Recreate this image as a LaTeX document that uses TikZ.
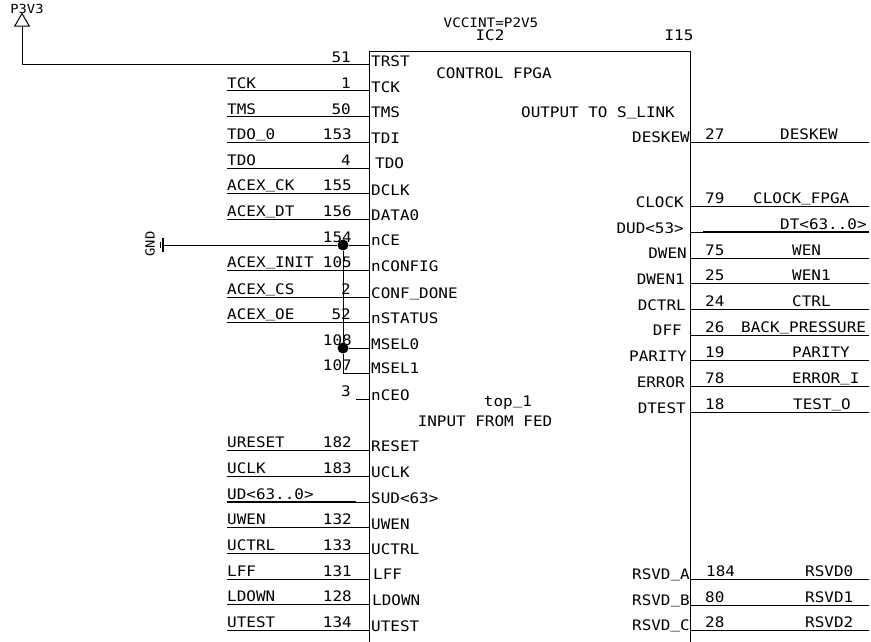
\documentclass[tikz,border=0pt]{standalone}
\usepackage{fontspec}
\usepackage{tikz}
\usetikzlibrary{shapes.geometric}
\newfontfamily\schfont[FakeStretch=1.1]{DejaVu Sans Mono}
\newcommand{\usc}{\raisebox{2.5pt}{\_}}

\tikzset{
  lbl/.style={inner sep=0pt,text height=11pt,text depth=2pt,font=\schfont\fontsize{14.5}{16}\selectfont},
  netlabel/.style={lbl,anchor=south west},
  pinnum/.style={lbl,anchor=south east},
  pinname/.style={lbl,anchor=south west},
  pinright/.style={lbl,anchor=south east},
  title/.style={lbl,text depth=0pt,anchor=center},
  smalllabel/.style={inner sep=0pt,font=\schfont\fontsize{12.5}{13}\selectfont},
  wire/.style={draw,line width=1pt},
  bus/.style={draw,line width=2pt},
  junction/.style={circle,fill,inner sep=0pt,minimum size=11pt}
}

\begin{document}
\begin{tikzpicture}[x=1pt,y=-1pt]
  \useasboundingbox (0,0) rectangle (871,642);
  \coordinate (icnw) at (369,52);
  \coordinate (icne) at (690,52);
  \coordinate (icsw) at (369,642);
  \coordinate (icse) at (690,642);
  \coordinate (wireend) at (869,642);
  \draw[wire] (icsw) -- (icnw) -- (icne) -- (icse);

  \node[title,font=\schfont\fontsize{13}{14}\selectfont] (vccint) at (491,22) {VCCINT=P2V5};
  \node[title] (ic2) at (490,35) {IC2};
  \node[title] (i15) at (679,35) {I15};
  \node[title] (ctrlfpga) at (494,73) {CONTROL FPGA};
  \node[title] (tolink) at (598,112) {OUTPUT TO S\usc{}LINK};
  \node[title] (top1) at (508,401) {top\usc{}1};
  \node[title] (fromfed) at (485,421) {INPUT FROM FED};

  \node[smalllabel] (p3v3) at (27,9) {P3V3};
  \node[draw,regular polygon,regular polygon sides=3,inner sep=0pt,minimum size=17pt,line width=1pt] (pwr) at (22,22) {};
  \node[smalllabel,rotate=90] (gnd) at (150,244) {GND};
  \coordinate (gndbar) at (163,245);
  \coordinate (gndtick) at (160,245);
  \draw[line width=2pt] ([yshift=-7pt]gndbar) -- ([yshift=7pt]gndbar);
  \draw[wire] ([yshift=-3pt]gndtick) -- ([yshift=3pt]gndtick);

  \node[pinnum] (n51) at (351,65) {51};
  \node[pinname] (ptrst) at (371,69) {TRST};
  \draw[wire] (pwr.south) |- (n51.south -| icsw);

  \node[netlabel] (tck) at (227,91) {TCK};
  \node[pinnum] (n1) at (351,91) {1};
  \node[pinname] (ptck) at (371,95) {TCK};
  \draw[wire] (tck.south west) -- (tck.south west -| icsw);

  \node[netlabel] (tms) at (227,117) {TMS};
  \node[pinnum] (n50) at (351,117) {50};
  \node[pinname] (ptms) at (371,120) {TMS};
  \draw[wire] (tms.south west) -- (tms.south west -| icsw);

  \node[netlabel] (tdozero) at (227,142) {TDO\usc{}0};
  \node[pinnum] (n153) at (352,142) {153};
  \node[pinname] (ptdi) at (371,146) {TDI};
  \draw[wire] (tdozero.south west) -- (tdozero.south west -| icsw);

  \node[netlabel] (tdo) at (227,168) {TDO};
  \node[pinnum] (n4) at (351,168) {4};
  \node[pinname] (ptdo) at (375,171) {TDO};
  \draw[wire] (tdo.south west) -- (tdo.south west -| icsw);

  \node[netlabel] (acexck) at (227,193) {ACEX\usc{}CK};
  \node[pinnum] (n155) at (352,193) {155};
  \node[pinname] (pdclk) at (371,198) {DCLK};
  \draw[wire] (acexck.south west) -- (acexck.south west -| icsw);

  \node[netlabel] (acexdt) at (227,219) {ACEX\usc{}DT};
  \node[pinnum] (n156) at (352,219) {156};
  \node[pinname] (pdata) at (371,223) {DATA0};
  \draw[wire] (acexdt.south west) -- (acexdt.south west -| icsw);

  \node[pinnum] (n154) at (352,245) {154};
  \node[pinname] (pnce) at (371,248) {nCE};
  \node[junction] (jgnd) at (343,245) {};
  \draw[wire] (gndbar) -- (jgnd) -- (jgnd -| icsw);

  \node[netlabel] (acexinit) at (227,270) {ACEX\usc{}INIT};
  \node[pinnum] (n105) at (352,270) {105};
  \node[pinname] (pnconfig) at (371,274) {nCONFIG};
  \draw[wire] (acexinit.south west) -- (acexinit.south west -| icsw);

  \node[netlabel] (acexcs) at (227,297) {ACEX\usc{}CS};
  \node[pinnum] (n2) at (351,297) {2};
  \node[pinname] (pconf) at (371,301) {CONF\usc{}DONE};
  \draw[wire] (acexcs.south west) -- (acexcs.south west -| icsw);

  \node[netlabel] (acexoe) at (227,322) {ACEX\usc{}OE};
  \node[pinnum] (n52) at (351,322) {52};
  \node[pinname] (pnstatus) at (371,326) {nSTATUS};
  \draw[wire] (acexoe.south west) -- (acexoe.south west -| icsw);

  \node[pinnum] (n108) at (352,348) {108};
  \node[pinname] (pmsela) at (371,352) {MSEL0};
  \node[junction] (jmsel) at (343,348) {};
  \draw[wire] (jgnd) -- (jmsel) -- (jmsel -| icsw);

  \node[pinnum] (n107) at (352,373) {107};
  \node[pinname] (pmselb) at (371,376) {MSEL1};
  \draw[wire] (jmsel) |- (n107.south -| icsw);

  \node[pinnum] (n3) at (351,399) {3};
  \node[pinname] (pnceo) at (371,403) {nCEO};
  \coordinate (nceostub) at (356,399);
  \draw[wire] (nceostub) -- (nceostub -| icsw);

  \node[netlabel] (ureset) at (227,450) {URESET};
  \node[pinnum] (n182) at (352,450) {182};
  \node[pinname] (preset) at (371,454) {RESET};
  \draw[wire] (ureset.south west) -- (ureset.south west -| icsw);

  \node[netlabel] (uclk) at (227,476) {UCLK};
  \node[pinnum] (n183) at (352,476) {183};
  \node[pinname] (puclk) at (371,480) {UCLK};
  \draw[wire] (uclk.south west) -- (uclk.south west -| icsw);

  \node[netlabel] (ud) at (227,502) {UD<63..0>};
  \node[pinname] (psud) at (371,506) {SUD<63>};
  \coordinate (udstub) at (356,502);
  \draw[bus] (ud.south west) -- (udstub);
  \draw[wire] (udstub) -- (udstub -| icsw);

  \node[netlabel] (uwen) at (227,527) {UWEN};
  \node[pinnum] (n132) at (352,527) {132};
  \node[pinname] (puwen) at (371,532) {UWEN};
  \draw[wire] (uwen.south west) -- (uwen.south west -| icsw);

  \node[netlabel] (uctrl) at (227,553) {UCTRL};
  \node[pinnum] (n133) at (352,553) {133};
  \node[pinname] (puctrl) at (371,557) {UCTRL};
  \draw[wire] (uctrl.south west) -- (uctrl.south west -| icsw);

  \node[netlabel] (lff) at (227,579) {LFF};
  \node[pinnum] (n131) at (352,579) {131};
  \node[pinname] (plff) at (373,582) {LFF};
  \draw[wire] (lff.south west) -- (lff.south west -| icsw);

  \node[netlabel] (ldown) at (227,604) {LDOWN};
  \node[pinnum] (n128) at (352,604) {128};
  \node[pinname] (pldown) at (372,608) {LDOWN};
  \draw[wire] (ldown.south west) -- (ldown.south west -| icsw);

  \node[netlabel] (utest) at (227,630) {UTEST};
  \node[pinnum] (n134) at (352,630) {134};
  \node[pinname] (putest) at (371,634) {UTEST};
  \draw[wire] (utest.south west) -- (utest.south west -| icsw);

  \node[pinright] (pdeskew) at (690,145) {DESKEW};
  \node[netlabel] (n27) at (705,142) {27};
  \node[netlabel] (deskew) at (780,142) {DESKEW};
  \draw[wire] (deskew.south -| icne) -- (deskew.south -| wireend);

  \node[pinright] (pclock) at (684,210) {CLOCK};
  \node[netlabel] (n79) at (705,206) {79};
  \node[netlabel] (clockfpga) at (753,206) {CLOCK\usc{}FPGA};
  \draw[wire] (clockfpga.south -| icne) -- (clockfpga.south -| wireend);

  \node[pinright] (pdud) at (684,236) {DUD<53>};
  \node[netlabel] (dt) at (780,232) {DT<63..0>};
  \coordinate (dtstub) at (703,232);
  \draw[wire] (dtstub -| icne) -- (dtstub);
  \draw[bus] (dtstub) -- (dtstub -| wireend);

  \node[pinright] (pdwen) at (687,261) {DWEN};
  \node[netlabel] (n75) at (705,258) {75};
  \node[netlabel] (wen) at (792,258) {WEN};
  \draw[wire] (wen.south -| icne) -- (wen.south -| wireend);

  \node[pinright] (pdwenb) at (685,287) {DWEN1};
  \node[netlabel] (n25) at (705,283) {25};
  \node[netlabel] (wenb) at (792,283) {WEN1};
  \draw[wire] (wenb.south -| icne) -- (wenb.south -| wireend);

  \node[pinright] (pdctrl) at (686,313) {DCTRL};
  \node[netlabel] (n24) at (705,309) {24};
  \node[netlabel] (ctrl) at (792,309) {CTRL};
  \draw[wire] (ctrl.south -| icne) -- (ctrl.south -| wireend);

  \node[pinright] (pdff) at (682,338) {DFF};
  \node[netlabel] (n26) at (705,335) {26};
  \node[netlabel] (backpress) at (741,335) {BACK\usc{}PRESSURE};
  \draw[wire] (backpress.south -| icne) -- (backpress.south -| wireend);

  \node[pinright] (pparity) at (687,364) {PARITY};
  \node[netlabel] (n19) at (705,360) {19};
  \node[netlabel] (parity) at (792,360) {PARITY};
  \draw[wire] (parity.south -| icne) -- (parity.south -| wireend);

  \node[pinright] (perror) at (685,390) {ERROR};
  \node[netlabel] (n78) at (705,386) {78};
  \node[netlabel] (errori) at (792,386) {ERROR\usc{}I};
  \draw[wire] (errori.south -| icne) -- (errori.south -| wireend);

  \node[pinright] (pdtest) at (686,416) {DTEST};
  \node[netlabel] (n18) at (705,412) {18};
  \node[netlabel] (testo) at (793,412) {TEST\usc{}O};
  \draw[wire] (testo.south -| icne) -- (testo.south -| wireend);

  \node[pinright] (prsvda) at (690,582) {RSVD\usc{}A};
  \node[netlabel] (n184) at (706,579) {184};
  \node[netlabel] (rsvda) at (805,579) {RSVD0};
  \draw[wire] (rsvda.south -| icne) -- (rsvda.south -| wireend);

  \node[pinright] (prsvdb) at (690,608) {RSVD\usc{}B};
  \node[netlabel] (n80) at (705,605) {80};
  \node[netlabel] (rsvdb) at (805,605) {RSVD1};
  \draw[wire] (rsvdb.south -| icne) -- (rsvdb.south -| wireend);

  \node[pinright] (prsvdc) at (690,633) {RSVD\usc{}C};
  \node[netlabel] (n28) at (705,630) {28};
  \node[netlabel] (rsvdc) at (805,630) {RSVD2};
  \draw[wire] (rsvdc.south -| icne) -- (rsvdc.south -| wireend);
\end{tikzpicture}
\end{document}
